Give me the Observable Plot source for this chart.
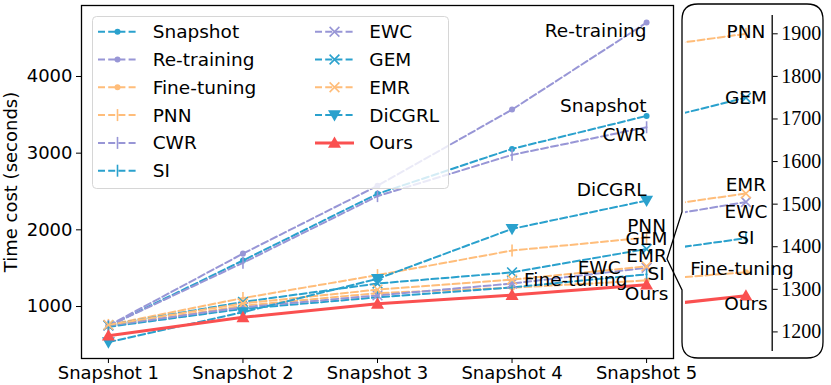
<!DOCTYPE html>
<html><head><meta charset="utf-8">
<script src="https://cdn.jsdelivr.net/npm/d3@7"></script>
<script src="https://cdn.jsdelivr.net/npm/@observablehq/plot@0.6"></script>
<style>
html,body{margin:0;padding:0;background:#fff;}
#wrap{position:relative;width:831px;height:385px;overflow:hidden;font-family:"DejaVu Sans",sans-serif;}
#wrap > *{position:absolute;left:0;top:0;}
</style></head><body><div id="wrap"></div>
<script>
// ---------- data ----------
const snapshots = [1, 2, 3, 4, 5];
const snapshotLabels = ["Snapshot 1", "Snapshot 2", "Snapshot 3", "Snapshot 4", "Snapshot 5"];
const methods = ["Snapshot", "Re-training", "Fine-tuning", "PNN", "CWR", "SI", "EWC", "GEM", "EMR", "DiCGRL", "Ours"];
const snapshotCost   = [745, 1600, 2470, 3056, 3486];
const retrainingCost = [750, 1690, 2575, 3568, 4703];
const finetuningCost = [740, 1010, 1175, 1245, 1340];
const pnnCost        = [760, 1110, 1410, 1730, 1900];
const cwrCost        = [745, 1570, 2440, 2978, 3338];
const siCost         = [735, 970, 1120, 1250, 1420];
const ewcCost        = [750, 990, 1145, 1300, 1505];
const gemCost        = [755, 1060, 1300, 1445, 1750];
const emrCost        = [760, 1040, 1220, 1350, 1525];
const dicgrlCost     = [535, 926, 1361, 2013, 2382];
const oursCost       = [620, 860, 1035, 1150, 1285];
const yTicks = [1000, 2000, 3000, 4000];
const insetTicks = [1200, 1300, 1400, 1500, 1600, 1700, 1800, 1900];

// ---------- styles ----------
const BLUE = "#2aa1cd", PURPLE = "#9896d6", ORANGE = "#ffbd7a", RED = "#fa5050";
const symBar = {draw(c, s){const r = Math.sqrt(s/Math.PI); c.moveTo(0,-r); c.lineTo(0,r);}};
const symX = {draw(c, s){const r = Math.sqrt(s/Math.PI)*0.75; c.moveTo(-r,-r); c.lineTo(r,r); c.moveTo(r,-r); c.lineTo(-r,r);}};
const symDown = {draw(c, s){const r = Math.sqrt(s/Math.PI); c.moveTo(0,r); c.lineTo(r,-r*0.75); c.lineTo(-r,-r*0.75); c.closePath();}};
const symUp = {draw(c, s){const r = Math.sqrt(s/Math.PI); c.moveTo(0,-r); c.lineTo(r,r*0.75); c.lineTo(-r,r*0.75); c.closePath();}};
const markerStyle = {
  dot: {symbol: "circle", r: 3, filled: true},
  bar: {symbol: symBar, r: 6, filled: false},
  x: {symbol: symX, r: 6.5, filled: false},
  down: {symbol: symDown, r: 6.5, filled: true},
  up: {symbol: symUp, r: 6.5, filled: true}
};
const styleOf = {
  "Snapshot": [BLUE, "dot"], "Re-training": [PURPLE, "dot"], "Fine-tuning": [ORANGE, "dot"],
  "PNN": [ORANGE, "bar"], "CWR": [PURPLE, "bar"], "SI": [BLUE, "bar"],
  "EWC": [PURPLE, "x"], "GEM": [BLUE, "x"], "EMR": [ORANGE, "x"],
  "DiCGRL": [BLUE, "down"], "Ours": [RED, "up"]
};
const valuesOf = {
  "Snapshot": snapshotCost, "Re-training": retrainingCost, "Fine-tuning": finetuningCost,
  "PNN": pnnCost, "CWR": cwrCost, "SI": siCost, "EWC": ewcCost, "GEM": gemCost,
  "EMR": emrCost, "DiCGRL": dicgrlCost, "Ours": oursCost
};
const series = methods.map(name => ({name, values: valuesOf[name], color: styleOf[name][0], marker: markerStyle[styleOf[name][1]], solid: name === "Ours"}));
const rowsOf = s => s.values.map((v, i) => ({method: s.name, snap: snapshots[i], cost: v}));
const DASH = "7,3.2";
const SANS = "DejaVu Sans";

function seriesMarks(clip) {
  const out = [];
  for (const s of series) {
    const rows = rowsOf(s);
    out.push(Plot.line(rows, {x: "snap", y: "cost", stroke: s.color, strokeWidth: s.solid ? 3 : 2,
      strokeDasharray: s.solid ? null : DASH, clip}));
    const m = s.marker;
    out.push(Plot.dot(rows, {x: "snap", y: "cost", symbol: m.symbol, r: m.r,
      fill: m.filled ? s.color : "none", stroke: m.filled ? "none" : s.color, strokeWidth: 1.6, clip}));
  }
  return out;
}

// label layout (anchored at the last snapshot)
const mainLabels = [
  {name: "Re-training", anchor: "end", dx: 0, dy: 8},
  {name: "Snapshot", anchor: "end", dx: 0, dy: -10},
  {name: "CWR", anchor: "end", dx: 0, dy: 8},
  {name: "DiCGRL", anchor: "end", dx: 0, dy: -10},
  {name: "PNN", anchor: "middle", dx: 0, dy: -11},
  {name: "GEM", anchor: "middle", dx: 0, dy: -10},
  {name: "EMR", anchor: "middle", dx: 0, dy: -10},
  {name: "EWC", anchor: "end", dx: -26, dy: 0},
  {name: "SI", anchor: "start", dx: 1, dy: 0},
  {name: "Fine-tuning", anchor: "end", dx: -19, dy: 0},
  {name: "Ours", anchor: "middle", dx: 0, dy: 9}
];
const insetLabels = [
  {name: "PNN", dx: 0, dy: -2}, {name: "GEM", dx: 0, dy: 0}, {name: "EMR", dx: 0, dy: -8},
  {name: "EWC", dx: 0, dy: 10}, {name: "SI", dx: 0, dy: 0}, {name: "Fine-tuning", dx: -4, dy: -3},
  {name: "Ours", dx: 0, dy: 8}
];
const last = snapshots.length - 1;
function labelMarks(list, size) {
  return list.map(l => Plot.text([{x: snapshots[last], y: valuesOf[l.name][last], t: l.name}],
    {x: "x", y: "y", text: "t", textAnchor: l.anchor || "middle", dx: l.dx, dy: l.dy, fontSize: size,
     fontFamily: SANS, fill: "#000", clip: false}));
}

const wrap = document.getElementById("wrap");

// ---------- main plot ----------
const main = Plot.plot({
  width: 831, height: 385,
  marginLeft: 81, marginRight: 158, marginTop: 5, marginBottom: 27,
  style: {fontFamily: SANS, fontSize: "18px", color: "#000", background: "transparent"},
  x: {type: "linear", domain: [0.8, 5.2]},
  y: {domain: [322, 4926]},
  marks: [
    ...seriesMarks(false),
    ...labelMarks(mainLabels, 18.5),
    Plot.axisY({ticks: yTicks, tickFormat: d3.format("d"), tickSize: 5, tickPadding: 4, fontSize: 18,
      label: "Time cost (seconds)", labelAnchor: "center", labelArrow: "none", labelOffset: 77}),
    Plot.axisX({ticks: snapshots, tickFormat: d => snapshotLabels[d - 1], tickSize: 5, tickPadding: 3, fontSize: 18, label: null}),
    Plot.frame({stroke: "#000", strokeWidth: 1.3})
  ]
});
wrap.appendChild(main);

// ---------- inset ----------
const inset = Plot.plot({
  width: 831, height: 385,
  marginLeft: 685, marginRight: 59.3, marginTop: 15, marginBottom: 34,
  style: {fontFamily: "Liberation Serif", fontSize: "20px", color: "#000", background: "transparent", overflow: "visible"},
  x: {domain: [4.885, 5.05], axis: null},
  y: {domain: [1154, 1943], axis: null},
  marks: [
    ...seriesMarks(true),
    ...labelMarks(insetLabels.map(l => ({...l, anchor: "middle"})), 18.5),
    Plot.ruleX([5.05], {stroke: "#000", strokeWidth: 1.3}),
    Plot.axisY({anchor: "right", ticks: insetTicks, tickFormat: d3.format("d"), tickSize: 5, tickPadding: 4,
      fontSize: 20, label: null})
  ]
});
wrap.appendChild(inset);
d3.select(inset).selectAll("[aria-label='y-axis tick label'] text").attr("font-family", "Liberation Serif");

// inset callout box (decoration)
{
  const L = 682, R = 823, T = 4, B = 358, rad = 16, n1 = 212, tipX = 667, tipY = 259, n2 = 290;
  const p = `M${L + rad},${T} H${R - rad} Q${R},${T} ${R},${T + rad} V${B - rad} Q${R},${B} ${R - rad},${B} H${L + rad} Q${L},${B} ${L},${B - rad} V${n2} L${tipX},${tipY} L${L},${n1} V${T + rad} Q${L},${T} ${L + rad},${T} Z`;
  d3.select(inset).append("path").attr("d", p).attr("fill", "none").attr("stroke", "#000").attr("stroke-width", 1.3);
}

// ---------- legend ----------
{
  const lx = 92, ly = 16, lw = 356, lh = 172;
  const svg = d3.select(wrap).append("svg").attr("width", 831).attr("height", 385).style("overflow", "visible");
  svg.append("rect").attr("x", lx + 0.5).attr("y", ly + 0.5).attr("width", lw).attr("height", lh).attr("rx", 4)
    .attr("fill", "rgba(255,255,255,0.8)").attr("stroke", "#d6d6d6").attr("stroke-width", 1);
  const cols = [{hx: 98, tx: 152.7}, {hx: 315, tx: 369.3}];
  series.forEach((s, i) => {
    const col = cols[i < 6 ? 0 : 1];
    const row = i < 6 ? i : i - 6;
    const y = 31.7 + row * 27.8;
    const g = svg.append("g");
    g.append("line").attr("x1", col.hx).attr("x2", col.hx + 39).attr("y1", y).attr("y2", y)
      .attr("stroke", s.color).attr("stroke-width", s.solid ? 3 : 2).attr("stroke-dasharray", s.solid ? null : DASH);
    const m = s.marker;
    const type = m.symbol === "circle" ? d3.symbolCircle : m.symbol;
    g.append("path").attr("transform", `translate(${col.hx + 19.5},${y})`)
      .attr("d", d3.symbol(type, Math.PI * m.r * m.r)())
      .attr("fill", m.filled ? s.color : "none").attr("stroke", m.filled ? "none" : s.color).attr("stroke-width", 1.6);
    g.append("text").attr("x", col.tx).attr("y", y).attr("dy", "0.35em").attr("font-size", 18.5)
      .attr("font-family", SANS).attr("fill", "#000").text(s.name);
  });
}
</script></body></html>
